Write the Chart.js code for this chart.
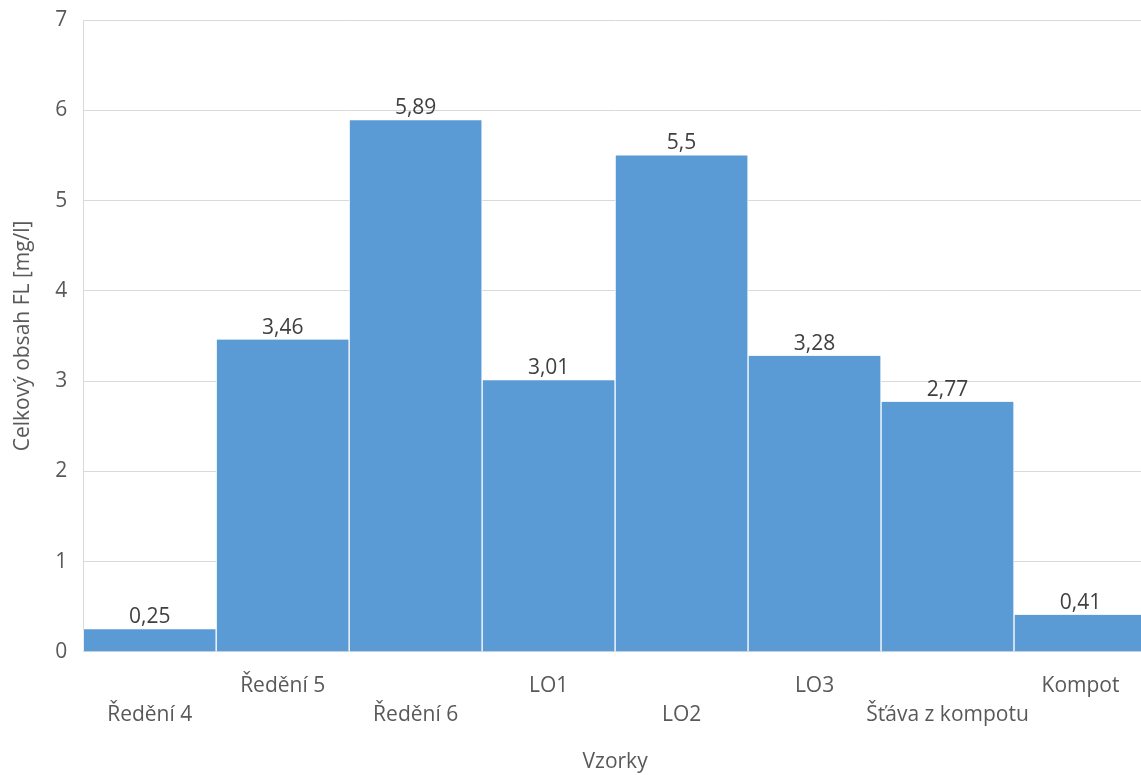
<!DOCTYPE html>
<html>
<head>
<meta charset="utf-8">
<script src="https://cdn.jsdelivr.net/npm/chart.js@4/dist/chart.umd.min.js"></script>
<style>
  html, body { margin: 0; padding: 0; background: #fff; overflow: hidden; }
  #wrap { width: 1150px; height: 775px; position: relative; }
</style>
</head>
<body>
<div id="wrap"><canvas id="c"></canvas></div>
<script>
// Vzorky a celkový obsah FL
const categories = ['Ředění 4', 'Ředění 5', 'Ředění 6', 'LO1', 'LO2', 'LO3', 'Šťáva z kompotu', 'Kompot'];
const values = [0.25, 3.46, 5.89, 3.01, 5.5, 3.28, 2.77, 0.41];
const yTicks = [0, 1, 2, 3, 4, 5, 6, 7];

const FONT = "'Open Sans', 'Noto Sans', sans-serif";
const TEXT = '#595959';

// value labels above each bar, decimal comma
const valueLabels = {
  id: 'valueLabels',
  afterDatasetsDraw(chart) {
    const ctx = chart.ctx;
    const meta = chart.getDatasetMeta(0);
    ctx.save();
    ctx.font = '21px ' + FONT;
    ctx.fillStyle = '#404040';
    ctx.textAlign = 'center';
    ctx.textBaseline = 'alphabetic';
    meta.data.forEach((bar, i) => {
      ctx.fillText(String(values[i]).replace('.', ','), bar.x, bar.y - 6);
    });
    ctx.restore();
  }
};

new Chart(document.getElementById('c'), {
  type: 'bar',
  data: {
    labels: categories,
    datasets: [{
      data: values,
      backgroundColor: '#5B9BD5',
      borderColor: '#ffffff',
      borderWidth: { left: 1, right: 1, top: 0, bottom: 0 },
      borderSkipped: false,
      categoryPercentage: 1,
      barPercentage: 1
    }]
  },
  options: {
    responsive: true,
    maintainAspectRatio: false,
    animation: false,
    layout: { padding: { top: 20, right: 3, left: 0, bottom: 0 } },
    plugins: { legend: { display: false }, tooltip: { enabled: false } },
    scales: {
      x: {
        grid: { display: false, drawTicks: false },
        border: { display: true, color: '#d9d9d9' },
        ticks: {
          color: TEXT,
          font: { family: FONT, size: 21, lineHeight: 1.38 },
          maxRotation: 0,
          autoSkip: false,
          padding: 20,
          callback: (v, i) => (i % 2 === 0 ? ['', categories[i]] : [categories[i], ''])
        },
        title: {
          display: true,
          text: 'Vzorky',
          color: TEXT,
          font: { family: FONT, size: 21, lineHeight: 1.2 },
          padding: { top: 0, bottom: 0 }
        }
      },
      y: {
        min: 0,
        max: 7,
        afterBuildTicks: (axis) => { axis.ticks = yTicks.map(v => ({ value: v })); },
        // invisible tick marks give the label gap without extra top padding
        grid: { color: '#d9d9d9', drawTicks: true, tickLength: 16, tickColor: 'rgba(0,0,0,0)' },
        border: { display: true, color: '#d9d9d9' },
        ticks: {
          color: TEXT,
          font: { family: FONT, size: 21 },
          padding: 0
        },
        title: {
          display: true,
          text: 'Celkový obsah FL [mg/l]',
          color: TEXT,
          font: { family: FONT, size: 21, lineHeight: 1.2 },
          padding: { top: 10, bottom: 20 }
        }
      }
    }
  },
  plugins: [valueLabels]
});
</script>
</body>
</html>
